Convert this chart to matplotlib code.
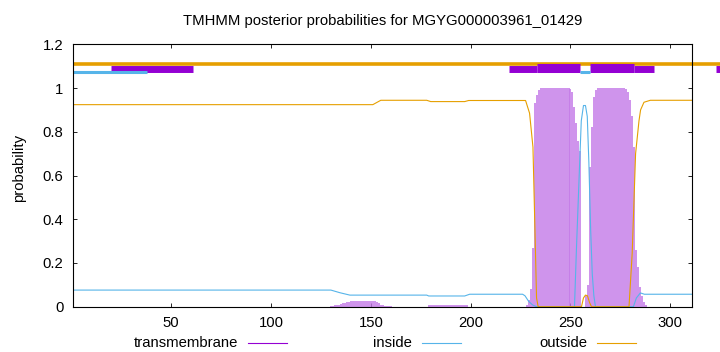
import matplotlib
matplotlib.use("Agg")
import matplotlib.pyplot as plt
from matplotlib.lines import Line2D

plt.rcParams['font.family'] = ['Liberation Sans', 'DejaVu Sans']
plt.rcParams['font.size'] = 10.7

seq_len = 311
title = "TMHMM posterior probabilities for MGYG000003961_01429"

# posterior curves (residue, probability)
outside_x = [1, 151, 155, 178, 180, 197, 199, 227.5, 229.5, 231.2, 232.2, 233, 233.8,
             255.5, 256.5, 257.5, 258.5, 259.5, 260.5, 279.3, 280.9, 282.6, 284.3,
             285.1, 286.8, 290, 311]
outside_y = [0.924, 0.924, 0.944, 0.944, 0.938, 0.938, 0.943, 0.943, 0.885, 0.73, 0.35,
             0.04, 0.0, 0.0, 0.04, 0.053, 0.05, 0.02, 0.0, 0.0, 0.245, 0.7, 0.85,
             0.9, 0.935, 0.944, 0.944]

inside_x = [1, 130, 134.5, 139.5, 178, 179, 197, 199.5, 226, 227.2, 229, 231, 233,
            252, 253, 254.6, 255.4, 256.5, 257.5, 258.4, 259.2, 260.1, 260.9, 261.7,
            262.5, 281.5, 283, 285, 287, 311]
inside_y = [0.076, 0.076, 0.064, 0.053, 0.053, 0.049, 0.049, 0.057, 0.057, 0.05, 0.025,
            0.008, 0.0, 0.0, 0.27, 0.66, 0.85, 0.92, 0.92, 0.87, 0.66, 0.35, 0.15, 0.05,
            0.0, 0.0, 0.04, 0.063, 0.057, 0.057]

# transmembrane impulses, one value per residue from the start position
tm_a_start = 130
tm_a = [0.002, 0.004, 0.006, 0.008, 0.01, 0.013, 0.016, 0.019, 0.021, 0.023, 0.025,
        0.027, 0.027, 0.027, 0.027, 0.027, 0.027, 0.027, 0.027, 0.027, 0.027,
        0.026, 0.024, 0.02, 0.015, 0.01, 0.006, 0.004, 0.003, 0.002, 0.002]
tm_b_start = 179
tm_b = [0.006, 0.008, 0.008, 0.008, 0.008, 0.008, 0.008, 0.008, 0.008, 0.008,
        0.008, 0.008, 0.008, 0.008, 0.008, 0.008, 0.008, 0.008, 0.008, 0.006]
tm_c_start = 228
tm_c = [0.01, 0.03, 0.08, 0.27, 0.93, 0.97, 0.99, 1.0, 1.0, 1.0, 1.0, 1.0, 1.0, 1.0,
        1.0, 1.0, 1.0, 1.0, 1.0, 1.0, 1.0, 1.0, 0.995, 0.98, 0.915, 0.84, 0.76, 0.71]
tm_d_start = 258
tm_d = [0.05, 0.1, 0.64, 0.82, 0.96, 0.99, 1.0, 1.0, 1.0, 1.0, 1.0, 1.0, 1.0, 1.0,
        1.0, 1.0, 1.0, 1.0, 1.0, 1.0, 0.995, 0.98, 0.945, 0.87, 0.73, 0.26, 0.18,
        0.09, 0.05, 0.02, 0.01]

# predicted topology strips above the curves (start, end)
outside_bar = [(1, 330)]
tm_bar_thin = [(20, 61), (219, 233), (282, 292), (323, 330)]
tm_bar_thick = [(233, 255), (260, 282)]
inside_bar = [(1, 38), (255, 260)]

c_tm = '#9400d3'
c_in = '#56b4e9'
c_out = '#e69f00'

fig = plt.figure(figsize=(7.2, 3.52), dpi=100)
ax = fig.add_axes([73.3 / 720, 1 - 306.7 / 352, (692.3 - 73.3) / 720, (306.7 - 44.3) / 352])

for start, vals in [(tm_a_start, tm_a), (tm_b_start, tm_b), (tm_c_start, tm_c), (tm_d_start, tm_d)]:
    xs = [start + i for i in range(len(vals))]
    ax.vlines(xs, 0, vals, color='#c47ae8', lw=1.15)

ax.plot(inside_x, inside_y, color=c_in, lw=0.8)
ax.plot(outside_x, outside_y, color=c_out, lw=0.8)

for a, b in outside_bar:
    ax.plot([a, b], [1.111, 1.111], color=c_out, lw=2.6, solid_capstyle='butt', clip_on=False)
for a, b in tm_bar_thin:
    ax.plot([a, b], [1.085, 1.085], color=c_tm, lw=5.0, solid_capstyle='butt', clip_on=False)
for a, b in tm_bar_thick:
    ax.plot([a, b], [1.093, 1.093], color=c_tm, lw=6.5, solid_capstyle='butt', clip_on=False)
for a, b in inside_bar:
    ax.plot([a, b], [1.072, 1.072], color=c_in, lw=2.2, solid_capstyle='butt', clip_on=False)

ax.set_xlim(1, seq_len)
ax.set_ylim(0, 1.2)
ax.set_xticks([50, 100, 150, 200, 250, 300])
ax.set_yticks([0, 0.2, 0.4, 0.6, 0.8, 1.0, 1.2])
ax.set_yticklabels(['0', '0.2', '0.4', '0.6', '0.8', '1', '1.2'])
ax.tick_params(direction='in', length=3, width=0.6, top=True, right=True, pad=7)
for s in ax.spines.values():
    s.set_linewidth(0.8)

ax.set_ylabel('probability')
ax.yaxis.set_label_coords(-0.076, 0.53)
fig.text(382.7 / 720, 1 - 21 / 352, title, ha='center', va='center')

# legend along the bottom: label, then sample line
legend_y = 1 - 343 / 352
legend = [('transmembrane', 238, c_tm), ('inside', 412, c_in), ('outside', 587, c_out)]
for label, x_end, col in legend:
    fig.text(x_end / 720, legend_y, label, ha='right', va='center')
    fig.add_artist(Line2D([(x_end + 10) / 720, (x_end + 49) / 720], [legend_y, legend_y],
                          color=col, lw=0.8, transform=fig.transFigure))

fig.savefig('out.png', dpi=100)
